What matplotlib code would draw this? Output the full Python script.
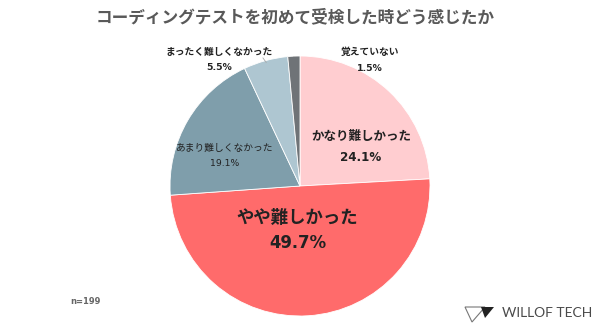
import matplotlib.pyplot as plt
from matplotlib.patches import Polygon

plt.rcParams['font.family'] = ['Noto Sans CJK JP', 'DejaVu Sans']

labels = ["かなり難しかった", "やや難しかった", "あまり難しくなかった", "まったく難しくなかった", "覚えていない"]
values = [24.1, 49.7, 19.1, 5.5, 1.5]
colors = ["#ffcdd0", "#ff6b6b", "#7f9eab", "#aec6d1", "#6f7377"]

# label centre (data coords, pie radius = 1), line gap, font size, weight
label_style = [
    ((0.47, 0.30), 0.155, 9, "bold"),
    ((-0.02, -0.34), 0.195, 12.5, "bold"),
    ((-0.58, 0.235), 0.12, 7, "normal"),
    ((-0.62, 0.97), 0.12, 7, "bold"),
    ((0.54, 0.97), 0.125, 7, "bold"),
]

fig = plt.figure(figsize=(6, 3.32), dpi=100)
ax = fig.add_axes([170 / 600, 16 / 332, 260 / 600, 260 / 332])
wedges, _ = ax.pie(values, colors=colors, startangle=90, counterclock=False,
                   wedgeprops=dict(edgecolor="white", linewidth=0.6))
ax.set_xlim(-1, 1)
ax.set_ylim(-1, 1)
ax.set_aspect("equal")

for lab, val, (pos, gap, fs, fw) in zip(labels, values, label_style):
    ax.text(pos[0], pos[1] + gap / 2, lab, ha="center", va="center",
            fontsize=fs, fontweight=fw, color="#222222")
    ax.text(pos[0], pos[1] - gap / 2, f"{val}%", ha="center", va="center",
            fontsize=fs * 0.95, fontweight=fw, color="#222222", family="DejaVu Sans")

# leader lines for the small slices
ax.plot([-0.285, -0.26], [0.985, 0.95], color="#aaaaaa", lw=0.6)
ax.plot([0.33, -0.05], [1.04, 1.0], color="#aaaaaa", lw=0.6)

fig.text(295 / 600, 0.949, "コーディングテストを初めて受検した時どう感じたか", ha="center", va="center",
         fontsize=12, fontweight="bold", color="#595959")
fig.text(70 / 600, 1 - 302 / 332, "n=199", ha="left", va="center",
         fontsize=6, fontweight="bold", color="#666666", family="DejaVu Sans")

# logo
fig.patches.append(Polygon([(465 / 600, 1 - 307 / 332), (485 / 600, 1 - 307 / 332), (472 / 600, 1 - 322 / 332)],
                           closed=True, fill=False, edgecolor="#777777", lw=0.8, transform=fig.transFigure))
fig.patches.append(Polygon([(481 / 600, 1 - 307 / 332), (494 / 600, 1 - 307 / 332), (485 / 600, 1 - 318 / 332)],
                           closed=True, facecolor="#222222", edgecolor="none", transform=fig.transFigure))
fig.text(502 / 600, 1 - 313 / 332, "WILLOF TECH", ha="left", va="center",
         fontsize=10, color="#4a4a4a", family="Lato", fontweight="normal")

fig.savefig("out.png", dpi=100)
